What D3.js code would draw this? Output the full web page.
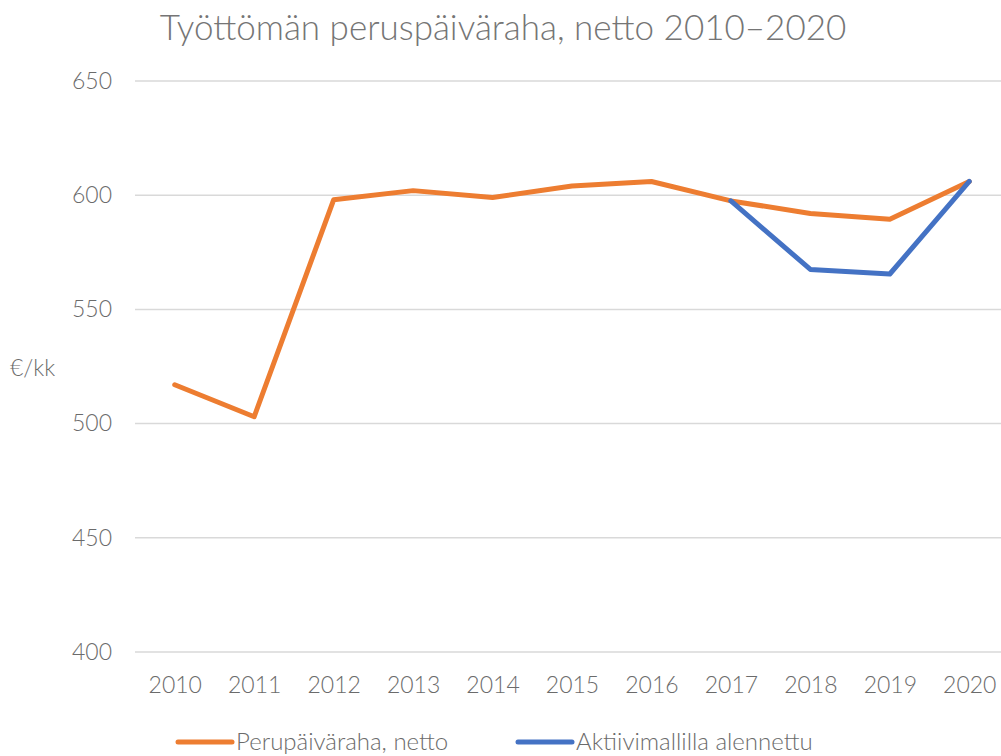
<!DOCTYPE html>
<html>
<head>
<meta charset="utf-8">
<script src="https://cdn.jsdelivr.net/npm/d3@7"></script>
<style>
  body { margin: 0; background: #fff; }
  svg { display: block; font-family: "Lato", "Open Sans", sans-serif; }
  .tick line { display: none; }
  .domain { display: none; }
</style>
</head>
<body>
<svg id="chart" width="1001" height="756"></svg>
<script>
var years = ["2010", "2011", "2012", "2013", "2014", "2015", "2016", "2017", "2018", "2019", "2020"];
var perus = [517, 503, 598, 602, 599, 604, 606, 597.5, 592, 589.5, 606];
var aktiivi = [null, null, null, null, null, null, null, 597.5, 567.5, 565.5, 606];
var yTicks = [400, 450, 500, 550, 600, 650];
var seriesNames = ["Perupäiväraha, netto", "Aktiivimallilla alennettu"];
var colors = ["#ED7D31", "#4472C4"];

var svg = d3.select("#chart");
var plotLeft = 135, plotRight = 1009, plotTop = 81, plotBottom = 652;

var x = d3.scalePoint()
    .domain(years)
    .range([plotLeft, plotRight])
    .padding(0.5);

var y = d3.scaleLinear()
    .domain([400, 650])
    .range([plotBottom, plotTop]);

// gridlines
svg.append("g")
    .selectAll("line")
    .data(yTicks)
    .enter()
    .append("line")
    .attr("x1", plotLeft)
    .attr("x2", 1001)
    .attr("y1", function (d) { return y(d); })
    .attr("y2", function (d) { return y(d); })
    .attr("stroke", "#d9d9d9")
    .attr("stroke-width", 1.5);

var yAxis = d3.axisLeft(y).tickValues(yTicks).tickSize(0).tickPadding(0);
svg.append("g")
    .attr("transform", "translate(112,0)")
    .call(yAxis)
    .attr("font-family", null)
    .selectAll("text")
    .attr("fill", "#6b6b6b")
    .style("font-size", "23px")
    .style("font-weight", "300");

var xAxis = d3.axisBottom(x).tickSize(0).tickPadding(0);
svg.append("g")
    .attr("transform", "translate(0," + (plotBottom + 25) + ")")
    .call(xAxis)
    .attr("font-family", null)
    .selectAll("text")
    .attr("fill", "#6b6b6b")
    .style("font-size", "23px")
    .style("font-weight", "300");

svg.append("text")
    .attr("x", 10)
    .attr("y", 376)
    .attr("fill", "#6b6b6b")
    .style("font-size", "23px")
    .style("font-weight", "300")
    .text("€/kk");

svg.append("text")
    .attr("x", 503)
    .attr("y", 40)
    .attr("text-anchor", "middle")
    .attr("fill", "#757575")
    .style("font-size", "35px")
    .style("font-weight", "300")
    .text("Työttömän peruspäiväraha, netto 2010–2020");

var line = d3.line()
    .defined(function (d) { return d.v !== null; })
    .x(function (d) { return x(d.year); })
    .y(function (d) { return y(d.v); });

[perus, aktiivi].forEach(function (s, i) {
    var pts = years.map(function (yr, j) { return { year: yr, v: s[j] }; });
    svg.append("path")
        .datum(pts)
        .attr("fill", "none")
        .attr("stroke", colors[i])
        .attr("stroke-width", 5)
        .attr("stroke-linejoin", "round")
        .attr("stroke-linecap", "round")
        .attr("d", line);
});

// legend
var legendX = [178, 518];
var legend = svg.selectAll(".legend")
    .data(seriesNames)
    .enter()
    .append("g")
    .attr("class", "legend")
    .attr("transform", function (d, i) { return "translate(" + legendX[i] + ",742)"; });

legend.append("line")
    .attr("x1", 0)
    .attr("x2", 54)
    .attr("stroke", function (d, i) { return colors[i]; })
    .attr("stroke-width", 5)
    .attr("stroke-linecap", "round");

legend.append("text")
    .attr("x", 58)
    .attr("y", 8)
    .attr("fill", "#6b6b6b")
    .style("font-size", "24px")
    .style("font-weight", "300")
    .text(function (d) { return d; });
</script>
</body>
</html>
